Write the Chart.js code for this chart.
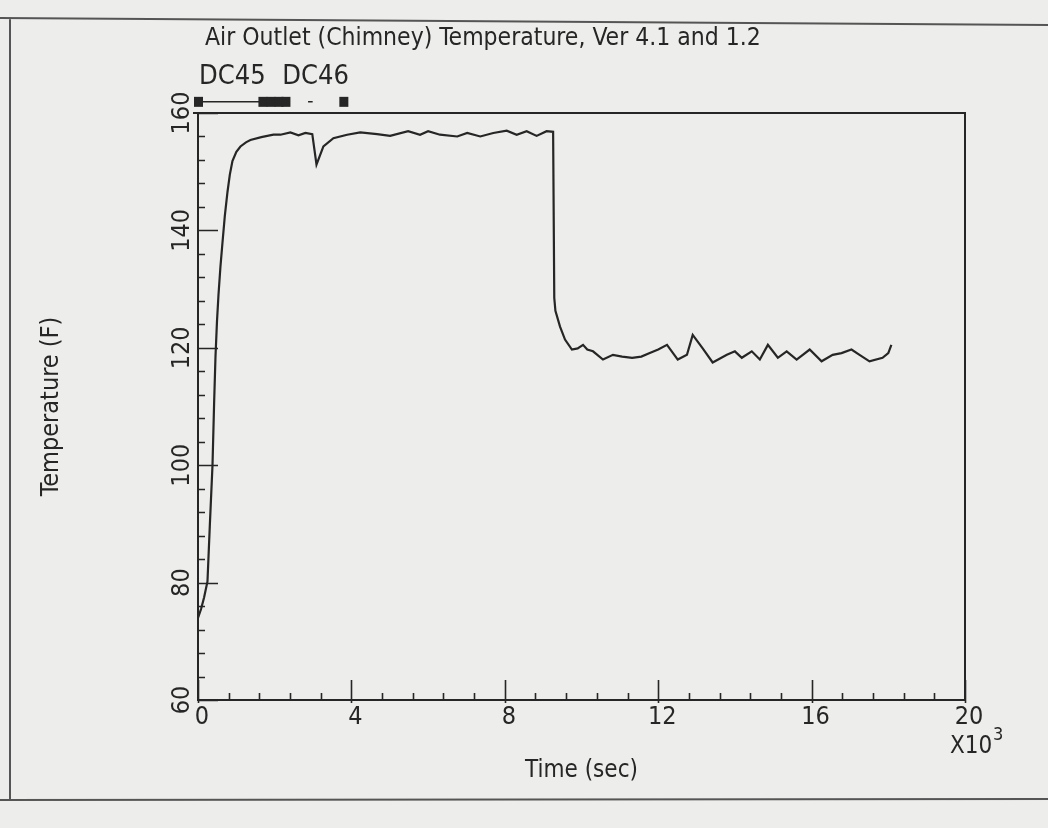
<!DOCTYPE html>
<html>
<head>
<meta charset="utf-8">
<script src="https://cdn.jsdelivr.net/npm/chart.js@4.4.1/dist/chart.umd.min.js"></script>
<style>
  html, body { margin: 0; padding: 0; background: #ededeb; }
  #wrap { width: 1048px; height: 828px; }
</style>
</head>
<body>
<div id="wrap"><canvas id="chart" width="1048" height="828"></canvas></div>
<script>
// ── Air outlet (chimney) temperature, time in seconds ──
const timeSec = [
  0, 80, 160, 247, 310, 378, 420, 456, 495, 534, 585, 638, 700, 768, 830, 898, 1000,
  1107, 1250, 1367, 1650, 1966,
  2150, 2410, 2620, 2800, 2980, 3090, 3270, 3530, 3890, 4230, 4670, 5010, 5480, 5790,
  6000, 6310, 6760, 7020, 7360, 7700, 8050, 8310, 8570, 8830, 9090, 9260,
  9290, 9320, 9440, 9570, 9750, 9900, 10040, 10150, 10300, 10560, 10820,
  11060, 11320, 11560, 11780, 12000, 12230, 12510, 12750, 12900, 13160, 13420, 13790,
  14000, 14180, 14440, 14650, 14860, 15120, 15350, 15610, 15950, 16260, 16550, 16780,
  17040, 17250, 17510, 17850, 18000, 18080
];
const tempF = [
  74.0, 75.5, 77.5, 80.2, 90.0, 100.0, 110.5, 118.5, 124.5, 129.0, 133.8, 137.9, 142.5, 146.5, 149.5, 151.8, 153.4,
  154.3, 155.0, 155.4, 155.9, 156.3,
  156.3, 156.7, 156.2, 156.6, 156.4, 151.2, 154.3, 155.7, 156.3, 156.7, 156.4, 156.1, 156.9, 156.3,
  156.9, 156.3, 156.0, 156.6, 156.0, 156.6, 157.0, 156.3, 156.9, 156.1, 156.9, 156.8,
  128.5, 126.3, 123.6, 121.4, 119.7, 119.9, 120.5, 119.7, 119.4, 118.0, 118.8,
  118.5, 118.3, 118.5, 119.1, 119.7, 120.5, 118.0, 118.8, 122.2, 119.9, 117.5, 118.8,
  119.4, 118.3, 119.4, 118.0, 120.5, 118.3, 119.4, 118.0, 119.7, 117.7, 118.8, 119.1,
  119.7, 118.8, 117.7, 118.3, 119.1, 120.5
];

// run markers along the top edge
const eventTimes = [0, 1680, 1890, 2100, 2280, 3790];
const eventLevel = 161.9;
const runBar = [[0, 2280], [2870, 2990]];
const runNames = ['DC45', 'DC46'];

const yMin = 60, yMax = 160, yStep = 20, yMinor = 4;
const xMin = 0, xMax = 20000, xStep = 4000, xMinor = 800;

const INK = '#262626';
const PAPER = '#ededeb';
const FONT = "'Liberation Sans Narrow', 'DejaVu Sans Condensed', 'Arial Narrow', sans-serif";

const series = timeSec.map((t, i) => ({ x: t, y: tempF[i] }));
const bars = [];
runBar.forEach(([a, b], i) => {
  if (i) bars.push({ x: (a + runBar[i - 1][1]) / 2, y: null });
  bars.push({ x: a, y: eventLevel }, { x: b, y: eventLevel });
});

// paper, frame, inward ticks, run markers and free text
const paperPlugin = {
  id: 'paper',
  beforeDraw(chart) {
    const ctx = chart.ctx;
    ctx.save();
    ctx.fillStyle = PAPER;
    ctx.fillRect(0, 0, chart.width, chart.height);
    // page border
    ctx.strokeStyle = '#555';
    ctx.lineWidth = 2;
    ctx.beginPath();
    ctx.moveTo(0, 18); ctx.lineTo(1048, 25);
    ctx.moveTo(10, 18); ctx.lineTo(10, 800);
    ctx.moveTo(0, 800); ctx.lineTo(1048, 799);
    ctx.stroke();
    ctx.restore();
  },
  afterDraw(chart) {
    const ctx = chart.ctx;
    const { left, right, top, bottom } = chart.chartArea;
    const xs = chart.scales.x, ys = chart.scales.y;
    ctx.save();
    ctx.strokeStyle = INK;
    ctx.lineWidth = 2;
    ctx.beginPath();
    ctx.moveTo(left - 5, top); ctx.lineTo(right, top); ctx.lineTo(right, bottom);
    ctx.stroke();

    ctx.lineWidth = 1.6;
    ctx.beginPath();
    for (let v = yMin; v <= yMax; v += yMinor) {
      const py = Math.round(ys.getPixelForValue(v)) + 0.5;
      const len = v % yStep === 0 ? 20 : 7;
      ctx.moveTo(left, py); ctx.lineTo(left + len, py);
    }
    for (let v = xMin; v <= xMax; v += xMinor) {
      const px = Math.round(xs.getPixelForValue(v)) + 0.5;
      const major = v % xStep === 0;
      ctx.moveTo(px, bottom + (major ? 3 : 0)); ctx.lineTo(px, bottom - (major ? 20 : 7));
    }
    ctx.stroke();

    // run markers sit just above the frame
    ctx.fillStyle = INK;
    const my = ys.getPixelForValue(eventLevel);
    eventTimes.forEach(t => {
      const mx = xs.getPixelForValue(t);
      ctx.fillRect(mx - 4, my - 5, 9, 10);
    });

    ctx.textBaseline = 'middle';
    ctx.textAlign = 'left';
    ctx.font = `24.5px ${FONT}`;
    ctx.fillText('Air Outlet (Chimney) Temperature, Ver 4.1 and 1.2', 205, 39);

    ctx.font = `27px ${FONT}`;
    ctx.fillText(runNames[0], xs.getPixelForValue(0) + 1, 77);
    ctx.fillText(runNames[1], xs.getPixelForValue(2200), 77);

    ctx.font = `24px ${FONT}`;
    ctx.fillText('X10', 950, 747);
    ctx.font = `18px ${FONT}`;
    ctx.fillText('3', 993, 735);
    ctx.restore();
  }
};

new Chart(document.getElementById('chart'), {
  type: 'scatter',
  data: {
    datasets: [
      {
        label: 'Air outlet temperature',
        data: series,
        showLine: true,
        borderColor: INK,
        borderWidth: 2.2,
        pointRadius: 0,
        tension: 0
      },
      {
        label: 'Run bar',
        data: bars,
        showLine: true,
        spanGaps: false,
        borderColor: INK,
        borderWidth: 1.5,
        pointRadius: 0,
        clip: false
      }
    ]
  },
  plugins: [paperPlugin],
  options: {
    responsive: false,
    devicePixelRatio: 1,
    animation: false,
    layout: { padding: { left: 20, right: 83, top: 113, bottom: 30 } },
    plugins: {
      legend: { display: false },
      tooltip: { enabled: false },
      title: { display: false }
    },
    scales: {
      x: {
        type: 'linear',
        min: xMin,
        max: xMax,
        afterFit: s => { s.height = 98; },
        border: { display: true, color: INK, width: 2 },
        grid: { display: false, drawTicks: false },
        ticks: {
          stepSize: xStep,
          padding: 2,
          labelOffset: 4,
          color: INK,
          font: { family: FONT, size: 25 },
          callback: v => String(v / 1000)
        },
        title: {
          display: true,
          text: 'Time (sec)',
          color: INK,
          font: { family: FONT, size: 24 },
          padding: { top: 0, bottom: 13 }
        }
      },
      y: {
        min: yMin,
        max: yMax,
        afterFit: s => { s.width = 178; },
        border: { display: true, color: INK, width: 2 },
        grid: { display: false, drawTicks: false },
        ticks: {
          stepSize: yStep,
          minRotation: 90,
          maxRotation: 90,
          crossAlign: 'center',
          padding: -6,
          color: INK,
          font: { family: FONT, size: 25 }
        },
        title: {
          display: true,
          text: 'Temperature (F)',
          color: INK,
          font: { family: FONT, size: 25 },
          padding: { top: 16 }
        }
      }
    }
  }
});
</script>
</body>
</html>
